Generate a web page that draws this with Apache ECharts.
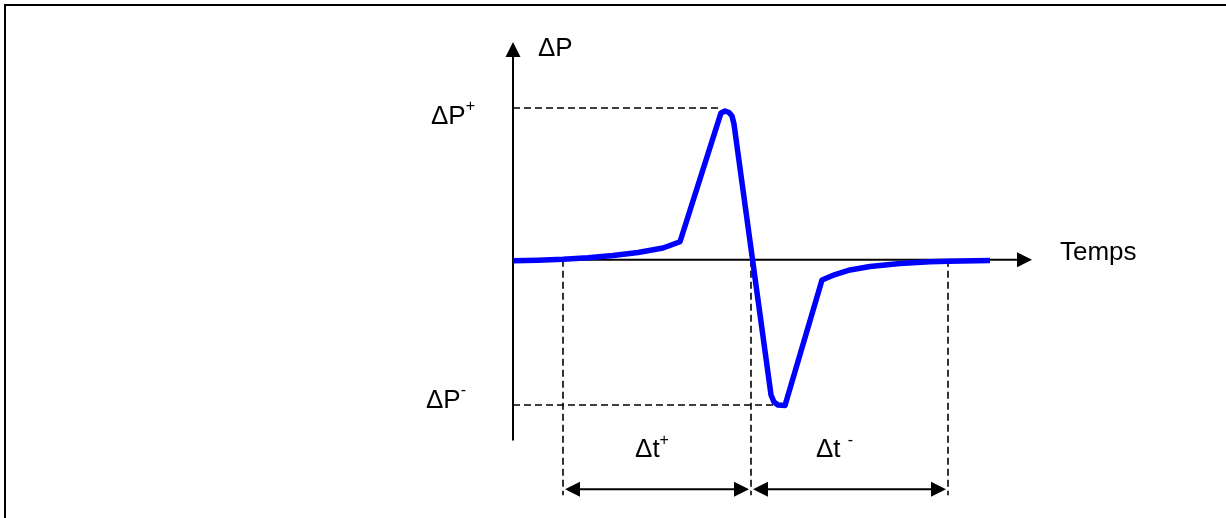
<!DOCTYPE html>
<html>
<head>
<meta charset="utf-8">
<script src="https://cdn.jsdelivr.net/npm/echarts@6/dist/echarts.min.js"></script>
<style>
  html, body { margin: 0; padding: 0; background: #ffffff; }
  #chart { width: 1226px; height: 518px; }
</style>
</head>
<body>
<div id="chart"></div>
<script>
// Pressure transient: overpressure peak, crossing, underpressure trough, return to zero.
// Time and pressure are in arbitrary units.
const curveTime = [0, 12.5, 25, 37.5, 50, 62.5, 75, 83.5, 104, 106, 108, 109.5, 110.5,
  129, 130.5, 132.5, 136, 154.5, 161, 168.5, 178.5, 193.5, 208.5, 217.5, 238.5];
const curvePressure = [-0.6, -0.3, 0.3, 1.3, 2.8, 4.8, 7.8, 11.9, 96.7, 98.0, 97.0, 94.7, 89.4,
  -89.0, -93.6, -95.6, -95.9, -13.3, -9.7, -6.7, -4.4, -2.4, -1.3, -0.9, -0.5];

// Characteristic levels and instants
const deltaPPlus = 100;      // ΔP+
const deltaPMinus = -95.6;   // ΔP-
const peakTime = 104;
const troughTime = 136;
const tRiseStart = 25;       // start of Δt+
const tCross = 119;          // zero crossing: end of Δt+, start of Δt-
const tSettle = 217.5;       // end of Δt-

// Axis arrows extent
const timeAxisEnd = 259.5;
const pressureAxisTop = 143.4;
const pressureAxisBottom = -119;

// Level of the duration arrows and bottom of the vertical guides
const spanLevel = -151;
const guideBottom = -155;

// Text annotations
const labelMain = ['ΔP', 'ΔP', 'ΔP', 'Temps', 'Δt', 'Δt '];
const labelSup = ['', '+', '-', '', '+', '-'];

const FONT = "'Liberation Sans', Arial, sans-serif";

const axesData = [
  [0, pressureAxisBottom, 0, pressureAxisTop],
  [0, 0, timeAxisEnd, 0]
];
const guideData = [
  [0, deltaPPlus, peakTime, deltaPPlus],
  [0, deltaPMinus, troughTime, deltaPMinus],
  [tRiseStart, 0, tRiseStart, guideBottom],
  [tCross, 0, tCross, guideBottom],
  [tSettle, 0, tSettle, guideBottom]
];
const spanData = [
  [tRiseStart, tCross, spanLevel],
  [tCross, tSettle, spanLevel]
];
const labelData = [
  [0, pressureAxisTop, 0],
  [0, deltaPPlus, 1],
  [0, deltaPMinus, 2],
  [timeAxisEnd, 0, 3],
  [(tRiseStart + tCross) / 2, spanLevel, 4],
  [(tCross + tSettle) / 2, spanLevel, 5]
];
// placement of each annotation relative to its anchor (pixels)
const labelPlacement = [
  { dx: 25, dy: 7, align: 'left' },
  { dx: -38, dy: 9, align: 'right' },
  { dx: -47, dy: -4, align: 'right' },
  { dx: 28, dy: -7, align: 'left' },
  { dx: -5, dy: -39, align: 'center' },
  { dx: -15, dy: -39, align: 'center' }
];

function head(tip, from, len, half) {
  const dx = tip[0] - from[0], dy = tip[1] - from[1];
  const d = Math.hypot(dx, dy);
  const ux = dx / d, uy = dy / d;
  const bx = tip[0] - ux * len, by = tip[1] - uy * len;
  return {
    type: 'polygon',
    shape: { points: [tip, [bx - uy * half, by + ux * half], [bx + uy * half, by - ux * half]] },
    style: { fill: '#000000' }
  };
}

const chart = echarts.init(document.getElementById('chart'), null, { renderer: 'canvas' });

chart.setOption({
  animation: false,
  backgroundColor: '#ffffff',
  grid: { left: 513, right: 193, top: 32, bottom: 0 },
  xAxis: { type: 'value', min: 0, max: 260, show: false },
  yAxis: { type: 'value', min: -170, max: 150, show: false },
  graphic: [{
    type: 'rect',
    shape: { x: 5, y: 5, width: 1400, height: 700 },
    style: { fill: 'none', stroke: '#000000', lineWidth: 2 },
    silent: true
  }],
  series: [
    {
      // axes with arrow heads
      type: 'custom',
      z: 2,
      data: axesData,
      renderItem: function (params, api) {
        const a = api.coord([api.value(0), api.value(1)]);
        const b = api.coord([api.value(2), api.value(3)]);
        const len = 15;
        const d = Math.hypot(b[0] - a[0], b[1] - a[1]);
        const end = [b[0] - (b[0] - a[0]) / d * (len - 2), b[1] - (b[1] - a[1]) / d * (len - 2)];
        return {
          type: 'group',
          children: [
            { type: 'line', shape: { x1: a[0], y1: a[1], x2: end[0], y2: end[1] },
              style: { stroke: '#000000', lineWidth: 2 } },
            head(b, a, len, 7.5)
          ]
        };
      }
    },
    {
      // dashed guides
      type: 'custom',
      z: 2,
      data: guideData,
      renderItem: function (params, api) {
        const a = api.coord([api.value(0), api.value(1)]);
        const b = api.coord([api.value(2), api.value(3)]);
        return {
          type: 'line',
          shape: { x1: a[0], y1: a[1], x2: b[0], y2: b[1] },
          style: { stroke: '#000000', lineWidth: 1.6, lineDash: [7, 4] }
        };
      }
    },
    {
      // duration arrows
      type: 'custom',
      z: 2,
      data: spanData,
      renderItem: function (params, api) {
        const a = api.coord([api.value(0), api.value(2)]);
        const b = api.coord([api.value(1), api.value(2)]);
        const gap = 2;
        const p0 = [a[0] + gap, a[1]];
        const p1 = [b[0] - gap, b[1]];
        return {
          type: 'group',
          children: [
            { type: 'line', shape: { x1: p0[0] + 10, y1: p0[1], x2: p1[0] - 10, y2: p1[1] },
              style: { stroke: '#000000', lineWidth: 2 } },
            head(p0, p1, 15, 7.5),
            head(p1, p0, 15, 7.5)
          ]
        };
      }
    },
    {
      name: 'ΔP',
      type: 'line',
      z: 5,
      data: curveTime.map((t, i) => [t, curvePressure[i]]),
      showSymbol: false,
      symbol: 'none',
      lineStyle: { color: '#0000ff', width: 5.5, join: 'round', cap: 'butt' }
    },
    {
      // text annotations
      type: 'custom',
      z: 6,
      data: labelData,
      renderItem: function (params, api) {
        const p = api.coord([api.value(0), api.value(1)]);
        const i = api.value(2);
        const pl = labelPlacement[i];
        const text = labelSup[i] ? '{m|' + labelMain[i] + '}{s|' + labelSup[i] + '}' : '{m|' + labelMain[i] + '}';
        return {
          type: 'text',
          x: p[0] + pl.dx,
          y: p[1] + pl.dy,
          style: {
            text: text,
            align: pl.align,
            verticalAlign: 'middle',
            fill: '#000000',
            rich: {
              m: { fontSize: 26, fontFamily: FONT, lineHeight: 36, fill: '#000000' },
              s: { fontSize: 16, fontFamily: FONT, lineHeight: 15, verticalAlign: 'top', fill: '#000000' }
            }
          }
        };
      }
    }
  ]
});
</script>
</body>
</html>
